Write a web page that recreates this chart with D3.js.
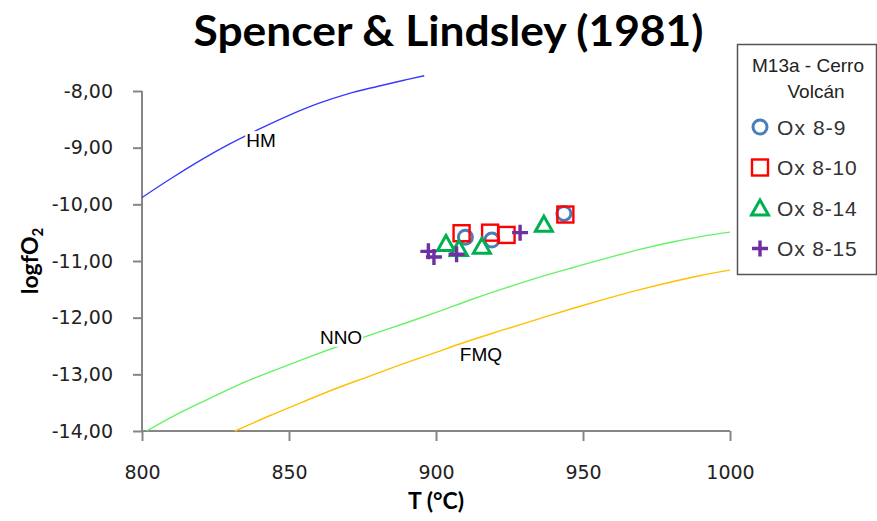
<!DOCTYPE html>
<html>
<head>
<meta charset="utf-8">
<script src="https://cdn.jsdelivr.net/npm/d3@7/dist/d3.min.js"></script>
<style>
  html, body { margin: 0; padding: 0; background: #fff; }
  svg { display: block; }
</style>
</head>
<body>
<svg id="chart" width="877" height="521"></svg>
<script>
// Buffer curves (T in °C, log fO2)
const hmCurve = [[800,-9.88],[810,-9.54],[820,-9.22],[830,-8.93],[840,-8.67],[850,-8.43],[860,-8.22],[870,-8.05],[880,-7.92],[890,-7.8],[896,-7.73]];
const nnoCurve = [[801.6,-14.0],[811,-13.73],[822,-13.45],[833,-13.18],[845,-12.93],[856,-12.71],[867,-12.5],[878,-12.3],[890,-12.09],[901,-11.89],[912,-11.68],[924,-11.47],[935,-11.29],[947,-11.11],[958,-10.95],[969,-10.8],[980,-10.67],[990,-10.57],[1000,-10.49]];
const fmqCurve = [[831.6,-14.0],[843,-13.74],[855,-13.48],[866,-13.25],[877,-13.04],[888,-12.83],[899,-12.63],[910,-12.43],[922,-12.23],[935,-12.02],[947,-11.83],[958,-11.665],[969,-11.51],[980,-11.37],[990,-11.255],[1000,-11.16]];

// Curve labels (anchor in data units)
const curveLabels = [
  { text: "HM",  t: 840.5, f: -8.87 },
  { text: "NNO", t: 867.7, f: -12.34 },
  { text: "FMQ", t: 915.3, f: -12.65 }
];

// Oxide pair results, sample M13a - Cerro Volcán
const ox8_9  = [[910,-10.58],[919,-10.63],[943.5,-10.16]];
const ox8_10 = [[908.7,-10.51],[918.4,-10.5],[924,-10.54],[944,-10.18]];
const ox8_14 = [[903.4,-10.69],[907.8,-10.78],[915.6,-10.74],[936.7,-10.35]];
const ox8_15 = [[897.4,-10.83],[899.3,-10.93],[907,-10.88],[928.6,-10.5]];

const xTicks = [800, 850, 900, 950, 1000];
const yTicks = [-8, -9, -10, -11, -12, -13, -14];

const svg = d3.select("#chart");
const plot = { left: 142, right: 730, top: 91, bottom: 431 };

const x = d3.scaleLinear().domain([800, 1000]).range([plot.left, plot.right]);
const y = d3.scaleLinear().domain([-14, -8]).range([plot.bottom, plot.top]);

const axisColor = "#868686";
const fmtY = v => d3.format(".2f")(v).replace(".", ",").replace("−", "-");

// Title
svg.append("text")
  .attr("x", 448.5).attr("y", 46)
  .attr("text-anchor", "middle")
  .attr("font-family", "Lato, 'Open Sans', sans-serif")
  .attr("font-weight", 700)
  .attr("font-size", 42)
  .attr("textLength", 510)
  .attr("lengthAdjust", "spacingAndGlyphs")
  .attr("fill", "#000")
  .text("Spencer & Lindsley (1981)");

// Y axis
const yAxis = svg.append("g")
  .attr("transform", `translate(${plot.left},0)`)
  .call(d3.axisLeft(y).tickValues(yTicks).tickFormat(fmtY).tickSize(9).tickPadding(20));
// X axis
const xAxis = svg.append("g")
  .attr("transform", `translate(0,${plot.bottom})`)
  .call(d3.axisBottom(x).tickValues(xTicks).tickFormat(d3.format("d")).tickSize(10).tickPadding(25));

[yAxis, xAxis].forEach(g => {
  g.select(".domain").attr("stroke", axisColor).attr("stroke-width", 2);
  g.selectAll(".tick line").attr("stroke", axisColor).attr("stroke-width", 2);
  g.selectAll(".tick text")
    .attr("fill", "#222")
    .attr("font-family", "'DejaVu Sans', sans-serif")
    .attr("font-size", 19);
});
// keep the domain path free of end caps
yAxis.select(".domain").attr("d", `M0,${plot.bottom}V${plot.top}`);
xAxis.select(".domain").attr("d", `M${plot.left},0H${plot.right}`);

// Axis titles
svg.append("text")
  .attr("x", 436).attr("y", 509)
  .attr("text-anchor", "middle")
  .attr("font-family", "Lato, sans-serif")
  .attr("font-weight", 700)
  .attr("font-size", 23)
  .text("T (°C)");

const yTitle = svg.append("text")
  .attr("transform", "translate(38,261) rotate(-90)")
  .attr("text-anchor", "middle")
  .attr("font-family", "Lato, sans-serif")
  .attr("font-weight", 700)
  .attr("font-size", 23);
yTitle.append("tspan").text("logfO");
yTitle.append("tspan").attr("font-size", 15).attr("dy", 5).text("2");

// Buffer curves
const line = d3.line().x(d => x(d[0])).y(d => y(d[1])).curve(d3.curveMonotoneX);
const curves = [
  { data: hmCurve,  color: "#3a3aff" },
  { data: nnoCurve, color: "#66f266" },
  { data: fmqCurve, color: "#ffc000" }
];
svg.append("g").selectAll("path").data(curves).join("path")
  .attr("d", c => line(c.data))
  .attr("fill", "none")
  .attr("stroke", d => d.color)
  .attr("stroke-width", 1.4);

// Curve labels on white boxes
const lg = svg.append("g").selectAll("g").data(curveLabels).join("g")
  .attr("transform", d => `translate(${x(d.t)},${y(d.f)})`);
lg.append("text")
  .attr("text-anchor", "middle")
  .attr("dy", "0.36em")
  .attr("font-family", "'Liberation Sans', Arial, sans-serif")
  .attr("font-size", 19)
  .attr("fill", "#000")
  .text(d => d.text);
lg.each(function() {
  const g = d3.select(this);
  const b = g.select("text").node().getBBox();
  g.insert("rect", "text")
    .attr("x", b.x - 1).attr("y", b.y + 1)
    .attr("width", b.width + 2).attr("height", b.height - 2)
    .attr("fill", "#fff");
});

// Marker shapes
const markerDraw = {
  circle: (g, color) => g.append("circle").attr("r", 7).attr("fill", "none").attr("stroke", color).attr("stroke-width", 3),
  square: (g, color) => g.append("rect").attr("x", -8).attr("y", -8).attr("width", 16).attr("height", 16).attr("fill", "none").attr("stroke", color).attr("stroke-width", 2.4),
  triangle: (g, color) => g.append("path").attr("d", "M0,-8L8.5,7L-8.5,7Z").attr("fill", "none").attr("stroke", color).attr("stroke-width", 3).attr("stroke-linejoin", "miter"),
  plus: (g, color) => g.append("path").attr("d", "M-8,0H8M0,-8V8").attr("stroke", color).attr("stroke-width", 3.4)
};

const series = [
  { name: "Ox 8-9",  data: ox8_9,  shape: "circle",   color: "#4a7ebb" },
  { name: "Ox 8-10", data: ox8_10, shape: "square",   color: "#ff0000" },
  { name: "Ox 8-14", data: ox8_14, shape: "triangle", color: "#00b050" },
  { name: "Ox 8-15", data: ox8_15, shape: "plus",     color: "#7030a0" }
];

series.forEach(s => {
  svg.append("g").selectAll("g").data(s.data).join("g")
    .attr("transform", d => `translate(${x(d[0])},${y(d[1])})`)
    .each(function() { markerDraw[s.shape](d3.select(this), s.color); });
});

// Legend
const legend = svg.append("g");
legend.append("rect")
  .attr("x", 737.5).attr("y", 44.5).attr("width", 139).attr("height", 230)
  .attr("fill", "#fff").attr("stroke", "#555").attr("stroke-width", 1.5);
const legendFont = "'Liberation Sans', Arial, sans-serif";
legend.append("text").attr("x", 808).attr("y", 72).attr("text-anchor", "middle")
  .attr("font-family", legendFont).attr("font-size", 19).attr("fill", "#222").text("M13a - Cerro");
legend.append("text").attr("x", 816).attr("y", 98).attr("text-anchor", "middle")
  .attr("font-family", legendFont).attr("font-size", 19).attr("fill", "#222").text("Volcán");

const entries = legend.selectAll("g.entry").data(series).join("g")
  .attr("class", "entry")
  .attr("transform", (d, i) => `translate(760,${127 + i * 40.5})`);
entries.each(function(s) { markerDraw[s.shape](d3.select(this), s.color); });
entries.append("text")
  .attr("x", 17).attr("dy", "0.36em")
  .attr("font-family", legendFont).attr("font-size", 21).attr("fill", "#333")
  .attr("textLength", d => d.name.length * 11.4)
  .attr("lengthAdjust", "spacing")
  .text(d => d.name);
</script>
</body>
</html>
